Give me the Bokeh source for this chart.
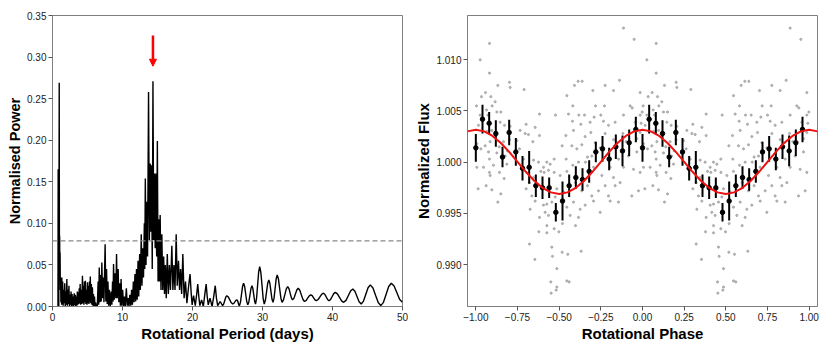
from bokeh.plotting import figure
from bokeh.layouts import row
from bokeh.models import Range1d, FixedTicker, CustomJSTickFormatter, Span, Arrow, NormalHead
from bokeh.embed import file_html
from bokeh.resources import INLINE

# ---------------- Left panel: periodogram ----------------
period_1 = [0.78, 0.81, 0.84, 0.90, 0.96, 0.99, 1.02, 1.05, 1.08, 1.12, 1.16, 1.20, 1.25]
power_1 = [0.000, 0.165, 0.010, 0.000, 0.269, 0.060, 0.085, 0.040, 0.065, 0.020, 0.035, 0.005, 0.030]

period_2 = [1.30, 1.33, 1.39, 1.45, 1.52, 1.60, 1.67, 1.75, 1.82, 1.90,
            1.97, 2.05, 2.12, 2.20, 2.27, 2.35, 2.42, 2.50, 2.57, 2.65,
            2.72, 2.80, 2.87, 2.95, 3.02, 3.10, 3.17, 3.25, 3.32, 3.40,
            3.47, 3.55, 3.62, 3.70, 3.76, 3.82, 3.88, 3.95, 4.02, 4.10,
            4.19, 4.28, 4.35, 4.42, 4.49, 4.56, 4.63, 4.70, 4.77, 4.85,
            4.92, 5.00, 5.07, 5.15, 5.21, 5.28, 5.34, 5.40, 5.47, 5.55,
            5.62, 5.70, 5.77, 5.85, 5.92, 6.00, 6.07, 6.15, 6.25, 6.40]
power_2 = [0.002, 0.035, 0.003, 0.030, 0.001, 0.020, 0.004, 0.028, 0.000, 0.018,
           0.002, 0.033, 0.001, 0.020, 0.003, 0.025, 0.000, 0.014, 0.002, 0.018,
           0.000, 0.015, 0.001, 0.012, 0.000, 0.016, 0.002, 0.014, 0.000, 0.012,
           0.001, 0.018, 0.002, 0.017, 0.003, 0.022, 0.004, 0.027, 0.002, 0.020,
           0.003, 0.037, 0.004, 0.025, 0.002, 0.030, 0.005, 0.031, 0.003, 0.020,
           0.002, 0.029, 0.004, 0.025, 0.003, 0.030, 0.005, 0.036, 0.004, 0.027,
           0.002, 0.023, 0.001, 0.015, 0.000, 0.012, 0.000, 0.005, 0.000, 0.001]

period_3 = [6.52, 6.60, 6.68, 6.78, 6.88, 6.96, 7.05, 7.15, 7.25, 7.35,
            7.52, 7.62, 7.72, 7.82, 7.92, 8.02, 8.12, 8.25, 8.38, 8.48,
            8.58, 8.65, 8.72, 8.82, 8.95, 9.05, 9.15, 9.25, 9.38, 9.48,
            9.60, 9.70, 9.80, 9.90, 10.02, 10.15, 10.28, 10.40, 10.55, 10.68,
            10.80, 10.92, 11.05, 11.18, 11.30, 11.42, 11.55, 11.65, 11.78, 11.88,
            12.00, 12.10, 12.22, 12.32, 12.45, 12.55, 12.68, 12.78, 12.90, 13.00,
            13.12, 13.18, 13.26, 13.36, 13.48, 13.58, 13.72, 13.84, 13.96, 14.05,
            14.16, 14.25, 14.35, 14.46, 14.57, 14.67, 14.78, 14.88, 14.98, 15.08,
            15.18, 15.28, 15.38, 15.50, 15.62, 15.75, 15.88, 16.00, 16.12, 16.25,
            16.40, 16.55, 16.70, 16.85, 17.05, 17.20, 17.35, 17.50, 17.67, 17.82,
            18.00, 18.15, 18.30, 18.45, 18.62, 18.80, 19.00, 19.20]
power_3 = [0.030, 0.002, 0.047, 0.005, 0.038, 0.006, 0.053, 0.010, 0.035, 0.005,
           0.075, 0.006, 0.045, 0.003, 0.030, 0.001, 0.020, 0.000, 0.018, 0.002,
           0.030, 0.006, 0.051, 0.008, 0.040, 0.010, 0.063, 0.010, 0.045, 0.005,
           0.028, 0.001, 0.033, 0.001, 0.020, 0.000, 0.012, 0.000, 0.022, 0.001,
           0.010, 0.000, 0.014, 0.001, 0.020, 0.002, 0.030, 0.005, 0.039, 0.006,
           0.045, 0.008, 0.055, 0.012, 0.063, 0.020, 0.087, 0.025, 0.070, 0.035,
           0.100, 0.045, 0.154, 0.050, 0.126, 0.060, 0.258, 0.080, 0.172, 0.090,
           0.170, 0.045, 0.271, 0.080, 0.160, 0.070, 0.160, 0.060, 0.199, 0.030,
           0.105, 0.030, 0.110, 0.020, 0.087, 0.020, 0.060, 0.015, 0.050, 0.010,
           0.063, 0.015, 0.050, 0.020, 0.073, 0.020, 0.050, 0.020, 0.087, 0.025,
           0.055, 0.020, 0.045, 0.015, 0.063, 0.010, 0.030, 0.004]

period_4 = [19.45, 19.65, 19.82, 19.95, 20.15, 20.40, 20.60, 20.75, 20.90, 21.05,
            21.30, 21.55, 21.75, 21.95, 22.10, 22.25, 22.50, 22.80, 23.05, 23.25,
            23.42, 23.60, 23.95, 24.30]
power_4 = [0.025, 0.039, 0.015, 0.002, 0.013, 0.001, 0.015, 0.027, 0.012, 0.001,
           0.008, 0.000, 0.014, 0.027, 0.012, 0.002, 0.010, 0.000, 0.013, 0.025,
           0.010, 0.001, 0.006, 0.001]

period_5 = [24.45, 24.60, 24.75, 24.90, 25.11, 25.33, 25.54, 25.75,
            25.90, 26.05, 26.20, 26.35, 26.44, 26.53, 26.61, 26.70,
            26.85, 27.00, 27.15, 27.30, 27.45, 27.60, 27.75, 27.90,
            28.05, 28.20, 28.35, 28.50, 28.62, 28.75, 28.88, 29.00,
            29.15, 29.30, 29.45, 29.60, 29.76, 29.93, 30.09, 30.25,
            30.41, 30.58, 30.74, 30.90, 31.05, 31.20, 31.35, 31.50,
            31.65, 31.80, 31.95, 32.10, 32.28, 32.45, 32.63, 32.80,
            33.00, 33.20, 33.40, 33.60, 33.78, 33.95, 34.13, 34.30,
            34.50, 34.70, 34.90, 35.10, 35.33, 35.55, 35.78, 36.00,
            36.23, 36.45, 36.68, 36.90, 37.10, 37.30, 37.50, 37.70,
            37.95, 38.20, 38.45, 38.70, 38.90, 39.10, 39.30, 39.50,
            39.73, 39.95, 40.18, 40.40, 40.70, 41.00, 41.30, 41.60,
            41.93, 42.25, 42.58, 42.90, 43.20, 43.50, 43.80, 44.10,
            44.43, 44.75, 45.08, 45.40, 45.78, 46.15, 46.53, 46.90,
            47.28, 47.65, 48.03, 48.40, 48.80, 49.20, 49.60, 50.00]
power_5 = [0.0028, 0.0070, 0.0112, 0.0130, 0.0115, 0.0080, 0.0045, 0.0030,
           0.0038, 0.0055, 0.0073, 0.0080, 0.0070, 0.0045, 0.0020, 0.0010,
           0.0050, 0.0145, 0.0240, 0.0280, 0.0241, 0.0150, 0.0059, 0.0020,
           0.0055, 0.0135, 0.0216, 0.0250, 0.0217, 0.0140, 0.0063, 0.0030,
           0.0098, 0.0255, 0.0413, 0.0480, 0.0413, 0.0255, 0.0098, 0.0030,
           0.0074, 0.0175, 0.0277, 0.0320, 0.0280, 0.0185, 0.0090, 0.0050,
           0.0100, 0.0215, 0.0330, 0.0380, 0.0330, 0.0215, 0.0100, 0.0050,
           0.0079, 0.0145, 0.0212, 0.0240, 0.0216, 0.0160, 0.0104, 0.0080,
           0.0101, 0.0150, 0.0199, 0.0220, 0.0196, 0.0140, 0.0084, 0.0060,
           0.0072, 0.0100, 0.0128, 0.0140, 0.0130, 0.0105, 0.0080, 0.0070,
           0.0084, 0.0115, 0.0147, 0.0160, 0.0147, 0.0115, 0.0084, 0.0070,
           0.0085, 0.0120, 0.0155, 0.0170, 0.0152, 0.0110, 0.0068, 0.0050,
           0.0074, 0.0130, 0.0186, 0.0210, 0.0183, 0.0120, 0.0057, 0.0030,
           0.0065, 0.0145, 0.0226, 0.0260, 0.0223, 0.0135, 0.0048, 0.0010,
           0.0050, 0.0145, 0.0240, 0.0280, 0.0246, 0.0165, 0.0085, 0.0050]

threshold = 0.079
peak_period = 14.35
arrow_top, arrow_tip = 0.326, 0.289

# ---------------- Right panel: phase-folded light curve ----------------
gray_phase = [0.082, 0.026, 0.082, 0.132, 0.202, 0.206, 0.058, 0.034, 0.090, 0.004,
              0.098, 0.116, 0.064, 0.126, 0.998, 0.026, 0.150, 0.072, 0.146, 0.992,
              0.016, 0.066, 0.096, 0.172, 0.206, 0.118, 0.086, 0.056, 0.006, 0.030,
              0.140, 0.076, 0.126, 0.190, 0.082, 0.106, 0.046, 0.006, 0.082, 0.142,
              0.086, 0.170, 0.062, 0.014, 0.096, 0.150, 0.132, 0.186, 0.176, 0.166, 0.202,
              0.290, 0.302, 0.266, 0.296, 0.316, 0.246, 0.356, 0.382, 0.382, 0.342,
              0.262, 0.286, 0.346, 0.376, 0.426, 0.406, 0.446, 0.470, 0.436, 0.410,
              0.390, 0.470, 0.346, 0.322, 0.302, 0.336, 0.356, 0.326, 0.406, 0.426,
              0.382, 0.416, 0.436, 0.456, 0.446, 0.476, 0.378, 0.426, 0.426, 0.322,
              0.354, 0.456, 0.460, 0.486, 0.450, 0.452, 0.486, 0.482, 0.518, 0.552,
              0.546, 0.560, 0.498, 0.520, 0.470,
              0.546, 0.582, 0.614, 0.638, 0.592, 0.478, 0.556, 0.618, 0.580, 0.652,
              0.586, 0.540, 0.630, 0.686, 0.710, 0.690, 0.656, 0.716, 0.636, 0.576,
              0.518, 0.606, 0.542, 0.546, 0.506, 0.582, 0.616, 0.658, 0.706, 0.696,
              0.670, 0.598, 0.636, 0.670, 0.696, 0.706, 0.656, 0.626, 0.586, 0.546,
              0.566, 0.598, 0.616, 0.632, 0.526, 0.486,
              0.776, 0.702, 0.718, 0.772, 0.862, 0.886, 0.950, 0.986, 0.926, 0.938,
              0.826, 0.766, 0.750, 0.796, 0.836, 0.886, 0.956, 0.986, 0.776, 0.826,
              0.882, 0.902, 0.966, 0.986, 0.746, 0.796, 0.856, 0.916, 0.966, 0.806,
              0.886, 0.946, 0.986, 0.756, 0.826, 0.776, 0.836, 0.796, 0.806, 0.856,
              0.936, 0.976, 0.746, 0.736, 0.866]
gray_flux = [1.0116, 1.0100, 1.0087, 1.0075, 1.0078, 1.0073, 1.0068, 1.0064, 1.0064, 1.0055,
             1.0055, 1.0059, 1.0051, 1.0049, 1.0049, 1.0046, 1.0049, 1.0046, 1.0039, 1.0038,
             1.0036, 1.0030, 1.0031, 1.0036, 1.0035, 1.0026, 1.0020, 1.0016, 1.0018, 1.0013,
             1.0015, 1.0010, 1.0009, 1.0011, 1.0003, 0.9997, 0.9995, 0.9995, 0.9990, 0.9990,
             0.9987, 0.9984, 0.9977, 0.9974, 0.9973, 0.9969, 0.9961, 0.9998, 1.0006, 1.0020, 1.0022,
             1.0071, 1.0037, 1.0031, 1.0028, 1.0027, 1.0021, 1.0034, 1.0047, 1.0026, 1.0020,
             1.0013, 1.0003, 1.0002, 1.0000, 1.0000, 0.9995, 0.9998, 1.0003, 0.9992, 0.9990,
             0.9991, 0.9990, 0.9985, 0.9980, 0.9974, 0.9967, 0.9962, 0.9954, 0.9958, 0.9959,
             0.9946, 0.9951, 0.9948, 0.9961, 0.9974, 0.9966, 0.9932, 0.9931, 0.9938, 0.9920,
             0.9905, 0.9917, 0.9908, 0.9896, 0.9883, 0.9872, 0.9878, 0.9875, 0.9912, 0.9910,
             0.9884, 0.9883, 0.9932, 0.9940, 0.9935,
             1.0065, 1.0055, 1.0079, 1.0079, 1.0075, 1.0046, 1.0047, 1.0046, 1.0040, 1.0046,
             1.0031, 1.0026, 1.0037, 1.0039, 1.0044, 1.0029, 1.0025, 1.0019, 1.0017, 1.0016,
             1.0016, 1.0013, 1.0003, 0.9991, 0.9987, 0.9997, 1.0000, 1.0000, 0.9995, 1.0006,
             1.0005, 0.9980, 0.9972, 0.9977, 0.9967, 0.9962, 0.9958, 0.9954, 0.9961, 0.9956,
             0.9948, 0.9938, 0.9946, 0.9913, 0.9971, 0.9974,
             1.0075, 1.0070, 1.0055, 1.0055, 1.0080, 1.0131, 1.0120, 1.0068, 1.0055, 1.0053,
             1.0070, 1.0040, 1.0046, 1.0036, 1.0039, 1.0046, 1.0039, 1.0046, 1.0028, 1.0022,
             1.0028, 1.0020, 1.0023, 1.0029, 1.0014, 1.0008, 1.0003, 1.0006, 1.0010, 0.9995,
             0.9995, 0.9993, 0.9990, 0.9987, 0.9985, 0.9977, 0.9977, 0.9967, 0.9962, 0.9961,
             0.9967, 0.9972, 0.9951, 0.9972, 0.9980]

bin_phase = [0.00, 0.04, 0.08, 0.12, 0.16, 0.20, 0.24, 0.28, 0.32, 0.36, 0.40, 0.44, 0.48,
             0.52, 0.56, 0.60, 0.64, 0.68, 0.72, 0.76, 0.80, 0.84, 0.88, 0.92, 0.96]
bin_flux = [1.0014, 1.0042, 1.0038, 1.0028, 1.0005, 1.0029, 1.0010, 0.9994, 0.9995, 0.9977,
            0.9975, 0.9975, 0.9951, 0.9962, 0.9977, 0.9985, 0.9983, 0.9991, 1.0010, 1.0013,
            1.0003, 1.0015, 1.0011, 1.0019, 1.0032]
bin_err = [0.00135, 0.0014, 0.0011, 0.0013, 0.0010, 0.00125, 0.00135, 0.0012, 0.0016, 0.0011,
           0.0011, 0.0010, 0.0009, 0.0019, 0.0011, 0.0011, 0.0011, 0.0011, 0.0010, 0.00125,
           0.0011, 0.0012, 0.0015, 0.0013, 0.00125]

model_phase = [round(-1.05 + 0.05 * i, 2) for i in range(43)]
model_flux = [1.00301, 1.00316, 1.00301, 1.00256, 1.00187, 1.00100, 1.00003, 0.99906, 0.99819,
              0.99750, 0.99705, 0.99690, 0.99705, 0.99750, 0.99819, 0.99906, 1.00003, 1.00100,
              1.00187, 1.00256, 1.00301, 1.00316, 1.00301, 1.00256, 1.00187, 1.00100, 1.00003,
              0.99906, 0.99819, 0.99750, 0.99705, 0.99690, 0.99705, 0.99750, 0.99819, 0.99906,
              1.00003, 1.00100, 1.00187, 1.00256, 1.00301, 1.00316, 1.00301]

FONT = "Liberation Sans"
FRAME = "#7f7f7f"


def style(p, ylabel_size="15px"):
    p.outline_line_color = FRAME
    p.outline_line_width = 1
    p.xgrid.visible = False
    p.ygrid.visible = False
    for ax in p.axis:
        ax.axis_line_color = FRAME
        ax.major_tick_line_color = "#555555"
        ax.major_tick_out = 4
        ax.major_tick_in = 0
        ax.minor_tick_line_color = None
        ax.major_label_text_font = FONT
        ax.major_label_text_font_size = "10px"
        ax.major_label_text_color = "#222222"
        ax.major_label_standoff = 2
        ax.axis_label_text_font = FONT
        ax.axis_label_text_font_style = "bold"
        ax.axis_label_text_color = "black"
        ax.axis_label_standoff = 1
    p.xaxis.axis_label_text_font_size = "15px"
    p.yaxis.axis_label_text_font_size = ylabel_size


# Left figure
p1 = figure(width=412, height=346, output_backend="svg", toolbar_location=None,
            x_range=Range1d(0, 50), y_range=Range1d(0, 0.35),
            min_border_left=52, min_border_right=10, min_border_top=15, min_border_bottom=40)
period = period_1 + period_2 + period_3 + period_4 + period_5
power = power_1 + power_2 + power_3 + power_4 + power_5
p1.line(period, power, line_color="black", line_width=1.4)
p1.add_layout(Span(location=threshold, dimension="width", line_color="#888888",
                   line_dash="5 3", line_width=1.3))
p1.add_layout(Arrow(end=NormalHead(size=7, fill_color="red", line_color="red"),
                    x_start=peak_period, y_start=arrow_top, x_end=peak_period, y_end=arrow_tip,
                    line_color="red", line_width=2.5))
p1.xaxis.ticker = FixedTicker(ticks=[0, 10, 20, 30, 40, 50])
p1.yaxis.ticker = FixedTicker(ticks=[0, 0.05, 0.10, 0.15, 0.20, 0.25, 0.30, 0.35])
p1.yaxis.formatter = CustomJSTickFormatter(code="return tick.toFixed(2);")
p1.xaxis.formatter = CustomJSTickFormatter(code="return tick.toFixed(0);")
p1.xaxis.axis_label = "Rotational Period (days)"
p1.yaxis.axis_label = "Normalised Power"
style(p1, ylabel_size="14.5px")

# Right figure
p2 = figure(width=418, height=346, output_backend="svg", toolbar_location=None,
            x_range=Range1d(-1.05, 1.05), y_range=Range1d(0.98590, 1.01433),
            min_border_left=55, min_border_right=13, min_border_top=15, min_border_bottom=40)
gx = gray_phase + [v - 1 for v in gray_phase]
gy = gray_flux + gray_flux
p2.scatter(gx, gy, size=2.2, color="#9a9a9a", alpha=0.7, marker="circle")
bx = bin_phase + [v - 1 for v in bin_phase]
by = bin_flux + bin_flux
be = bin_err + bin_err
p2.segment(bx, [y - e for y, e in zip(by, be)], bx, [y + e for y, e in zip(by, be)],
           line_color="black", line_width=2)
p2.scatter(bx, by, size=4.5, color="black")
p2.line(model_phase, model_flux, line_color="#ee1111", line_width=2)
p2.xaxis.ticker = FixedTicker(ticks=[-1.0, -0.75, -0.5, -0.25, 0.0, 0.25, 0.5, 0.75, 1.0])
p2.xaxis.formatter = CustomJSTickFormatter(
    code="return (tick < 0 ? '\u2212' : '') + Math.abs(tick).toFixed(2);")
p2.yaxis.ticker = FixedTicker(ticks=[0.990, 0.995, 1.000, 1.005, 1.010])
p2.yaxis.formatter = CustomJSTickFormatter(code="return tick.toFixed(3);")
p2.xaxis.axis_label = "Rotational Phase"
p2.yaxis.axis_label = "Normalized Flux"
style(p2)

layout = row(p1, p2)
open("out.html", "w").write(file_html(layout, INLINE))
